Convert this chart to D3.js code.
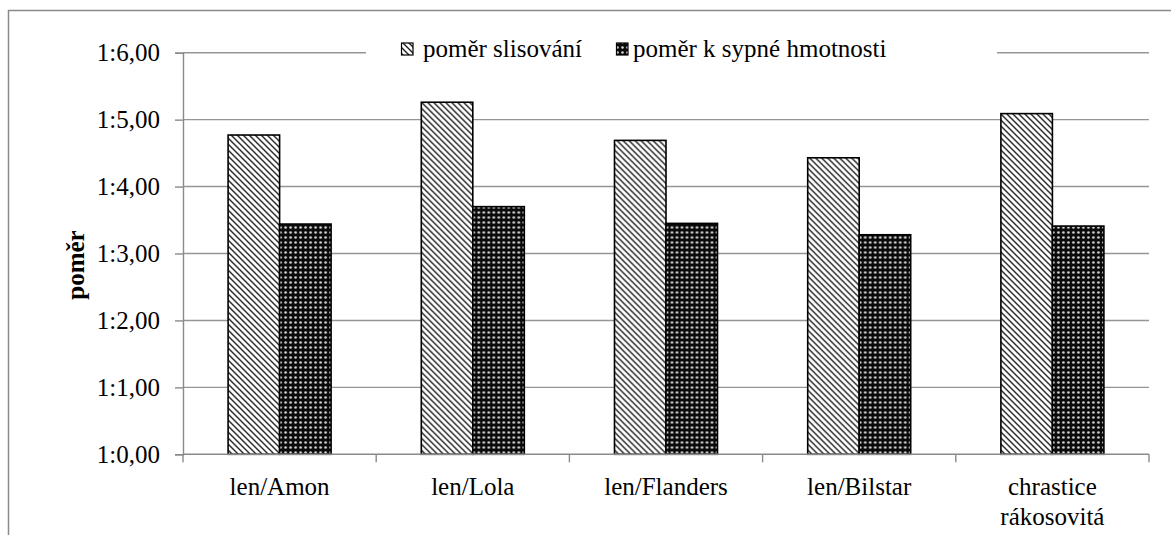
<!DOCTYPE html>
<html>
<head>
<meta charset="utf-8">
<script src="https://cdn.jsdelivr.net/npm/d3@7"></script>
<style>
  html, body { margin: 0; padding: 0; background: #fff; }
  svg { display: block; }
</style>
</head>
<body>
<svg id="chart" width="1171" height="535"></svg>
<script>
// Kategorie a hodnoty poměrů
const categories = ["len/Amon", "len/Lola", "len/Flanders", "len/Bilstar", "chrastice\nrákosovitá"];
const seriesNames = ["poměr slisování", "poměr k sypné hmotnosti"];
const lisovani = [4.77, 5.26, 4.69, 4.43, 5.09];
const sypna = [3.44, 3.70, 3.45, 3.28, 3.41];
const yTicks = [0, 1, 2, 3, 4, 5, 6];
const yTitle = "poměr";

const FONT = "'Liberation Serif', 'Times New Roman', serif";
const svg = d3.select("#chart");
const fmt = v => "1:" + d3.format(".2f")(v).replace(".", ",");

// vnější rámeček grafu
svg.append("rect")
  .attr("x", 8.5).attr("y", 10.5)
  .attr("width", 1180).attr("height", 540)
  .attr("fill", "#fff").attr("stroke", "#8a8a8a").attr("stroke-width", 1.5);

// vzory výplní
const defs = svg.append("defs");
const hatch = defs.append("pattern")
  .attr("id", "hatch").attr("patternUnits", "userSpaceOnUse")
  .attr("width", 6).attr("height", 6);
hatch.append("rect").attr("width", 6).attr("height", 6).attr("fill", "#fff");
hatch.append("path")
  .attr("d", "M-1,-1 L7,7 M-7,-1 L1,7 M5,-1 L13,7")
  .attr("stroke", "#222").attr("stroke-width", 1.4);

const dots = defs.append("pattern")
  .attr("id", "dots").attr("patternUnits", "userSpaceOnUse")
  .attr("width", 5).attr("height", 5);
dots.append("rect").attr("width", 5).attr("height", 5).attr("fill", "#0a0a0a");
dots.append("circle").attr("cx", 2.5).attr("cy", 2.5).attr("r", 1.3).attr("fill", "#d8d8d8");

const fills = ["url(#hatch)", "url(#dots)"];

// měřítka
const plot = { left: 183, right: 1149, top: 52.7, bottom: 454.3 };
const pad = 1 - 103 / 193.2;
const x0 = d3.scaleBand().domain(categories)
  .range([plot.left, plot.right]).paddingInner(pad).paddingOuter(pad / 2);
const x1 = d3.scaleBand().domain(seriesNames).range([0, x0.bandwidth()]);
const y = d3.scaleLinear().domain([0, 6]).range([plot.bottom, plot.top]);

// vodorovné mřížky
svg.append("g").selectAll("line").data(yTicks.filter(d => d > 0)).join("line")
  .attr("x1", plot.left).attr("x2", plot.right)
  .attr("y1", d => y(d)).attr("y2", d => y(d))
  .attr("stroke", "#959595").attr("stroke-width", 1.4);

// osa Y
const yAxis = svg.append("g").attr("transform", `translate(${plot.left},0)`)
  .call(d3.axisLeft(y).tickValues(yTicks).tickFormat(fmt).tickSize(8).tickPadding(15));
yAxis.attr("font-family", FONT);
yAxis.select(".domain").attr("stroke", "#8a8a8a").attr("stroke-width", 1.4);
yAxis.selectAll(".tick line").attr("stroke", "#8a8a8a").attr("stroke-width", 1.4);
yAxis.selectAll(".tick text")
  .attr("font-family", FONT)
  .attr("font-size", 25).attr("fill", "#000").attr("dy", "0.33em");

// sloupce
const groups = svg.append("g").selectAll("g").data(categories).join("g")
  .attr("transform", d => `translate(${x0(d)},0)`);
groups.selectAll("rect")
  .data((d, i) => [lisovani[i], sypna[i]].map((v, k) => ({ key: seriesNames[k], v, k })))
  .join("rect")
  .attr("x", d => x1(d.key))
  .attr("y", d => y(d.v))
  .attr("width", x1.bandwidth())
  .attr("height", d => y(0) - y(d.v))
  .attr("fill", d => fills[d.k])
  .attr("stroke", "#000").attr("stroke-width", 1.6);

// osa X s dělicími značkami mezi kategoriemi
const bounds = categories.map(c => x0(c) - x0.step() * pad / 2).concat([plot.right]);
svg.append("line")
  .attr("x1", plot.left).attr("x2", plot.right)
  .attr("y1", y(0)).attr("y2", y(0))
  .attr("stroke", "#8a8a8a").attr("stroke-width", 1.4);
svg.append("g").selectAll("line").data(bounds).join("line")
  .attr("x1", d => d).attr("x2", d => d)
  .attr("y1", y(0)).attr("y2", y(0) + 8)
  .attr("stroke", "#8a8a8a").attr("stroke-width", 1.4);

const labels = svg.append("g").selectAll("text").data(categories).join("text")
  .attr("x", d => x0(d) + x0.bandwidth() / 2)
  .attr("y", 495)
  .attr("text-anchor", "middle")
  .attr("font-family", FONT)
  .attr("font-size", 25).attr("fill", "#000");
labels.selectAll("tspan").data(d => d.split("\n")).join("tspan")
  .attr("x", function () { return d3.select(this.parentNode).attr("x"); })
  .attr("dy", (d, i) => i === 0 ? 0 : 30)
  .text(d => d);

// název osy Y
svg.append("text")
  .attr("transform", "translate(84,265) rotate(-90)")
  .attr("text-anchor", "middle")
  .attr("font-family", FONT)
  .attr("font-size", 25).attr("font-weight", "bold")
  .text(yTitle);

// legenda
const legend = svg.append("g");
legend.append("rect")
  .attr("x", 366).attr("y", 32).attr("width", 631).attr("height", 36)
  .attr("fill", "#fff");
const legendItems = [
  { name: seriesNames[0], fill: fills[0], sx: 401.5, tx: 423 },
  { name: seriesNames[1], fill: fills[1], sx: 616.5, tx: 633 }
];
legendItems.forEach(it => {
  legend.append("rect")
    .attr("x", it.sx).attr("y", 43).attr("width", 11.5).attr("height", 12)
    .attr("fill", it.fill).attr("stroke", "#000").attr("stroke-width", 1.2);
  legend.append("text")
    .attr("x", it.tx).attr("y", 57)
    .attr("font-family", FONT)
    .attr("font-size", 25).attr("fill", "#000")
    .text(it.name);
});
</script>
</body>
</html>
